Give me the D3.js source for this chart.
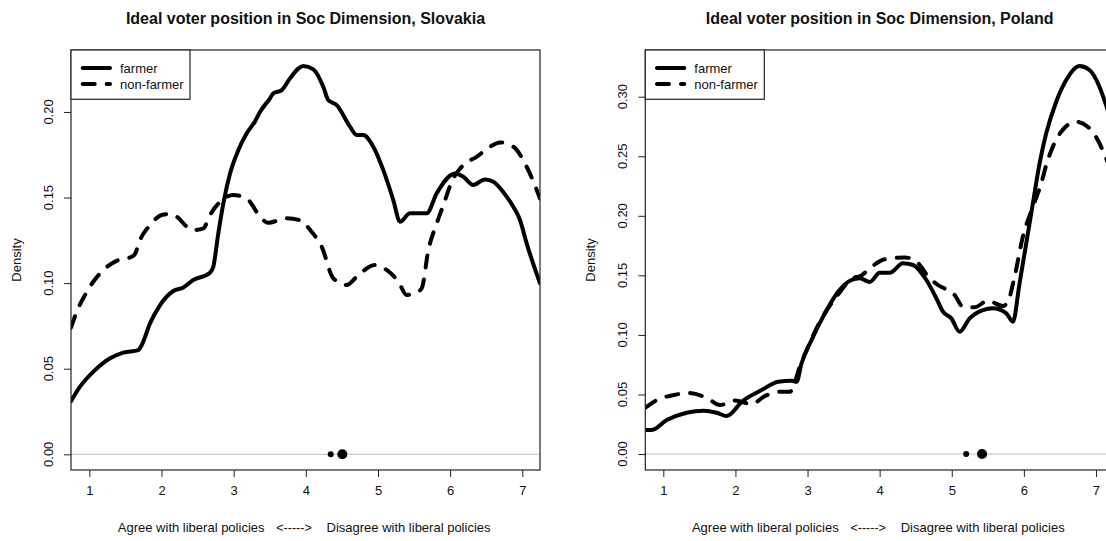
<!DOCTYPE html>
<html><head><meta charset="utf-8">
<script src="https://cdn.jsdelivr.net/npm/d3@7"></script>
<style>
body{margin:0;background:#fff}
text{font-family:"Liberation Sans",Arial,Helvetica,sans-serif;fill:#111}
</style>
</head><body>
<svg id="c" width="1106" height="541"></svg>
<script>
// ---------- data ----------
const xTicks = [1, 2, 3, 4, 5, 6, 7];
const skYTicks = [0, 0.05, 0.10, 0.15, 0.20];
const plYTicks = [0, 0.05, 0.10, 0.15, 0.20, 0.25, 0.30];
const legendLabels = ["farmer", "non-farmer"];
const titles = ["Ideal voter position in Soc Dimension, Slovakia", "Ideal voter position in Soc Dimension, Poland"];

const skFarmer = [[0.746,0.031],[0.871,0.0395],[1.057,0.0483],[1.287,0.0561],[1.471,0.0594],[1.679,0.0609],[1.726,0.0638],[1.841,0.0765],[1.98,0.0872],[2.164,0.0954],[2.302,0.0975],[2.44,0.1018],[2.672,0.1061],[2.718,0.1096],[2.787,0.129],[2.857,0.1466],[2.95,0.1641],[3.065,0.1777],[3.181,0.1875],[3.296,0.1945],[3.365,0.200],[3.504,0.208],[3.55,0.2109],[3.666,0.2128],[3.78,0.2196],[3.965,0.2268],[4.104,0.2249],[4.242,0.2147],[4.31,0.207],[4.428,0.204],[4.612,0.1914],[4.705,0.1865],[4.796,0.1865],[4.935,0.1797],[5.074,0.166],[5.212,0.1485],[5.305,0.1359],[5.444,0.1408],[5.675,0.1408],[5.814,0.1525],[6.067,0.1641],[6.182,0.1622],[6.32,0.1573],[6.483,0.1606],[6.598,0.1592],[6.783,0.1505],[6.875,0.1446],[6.968,0.1369],[7.06,0.1232],[7.245,0.0999]];
const skNonFarmer = [[0.746,0.074],[0.825,0.0833],[0.94,0.093],[1.055,0.1008],[1.218,0.1086],[1.402,0.1135],[1.588,0.1154],[1.633,0.117],[1.703,0.1252],[1.841,0.1339],[2.003,0.1398],[2.118,0.1404],[2.211,0.1388],[2.35,0.133],[2.441,0.131],[2.58,0.132],[2.672,0.1398],[2.811,0.1475],[2.995,0.1515],[3.203,0.1485],[3.365,0.1388],[3.48,0.1353],[3.735,0.1379],[3.92,0.1367],[4.08,0.130],[4.22,0.1213],[4.381,0.1028],[4.567,0.0989],[4.727,0.1047],[4.959,0.1106],[5.12,0.1077],[5.282,0.1008],[5.398,0.0931],[5.513,0.094],[5.606,0.097],[5.698,0.1193],[5.814,0.1349],[5.906,0.1456],[6.022,0.1592],[6.182,0.169],[6.368,0.1738],[6.552,0.1797],[6.691,0.1822],[6.875,0.1797],[7.06,0.168],[7.245,0.1495]];
const plFarmer = [[0.75,0.0202],[0.84,0.0202],[1.047,0.0285],[1.324,0.0347],[1.554,0.0364],[1.74,0.0347],[1.878,0.0319],[2.1,0.0445],[2.363,0.0537],[2.593,0.0607],[2.778,0.0615],[2.848,0.0607],[2.917,0.0762],[3.055,0.0957],[3.24,0.1181],[3.424,0.1363],[3.61,0.1461],[3.724,0.1475],[3.863,0.1445],[4.001,0.1522],[4.14,0.1522],[4.324,0.1601],[4.463,0.1587],[4.648,0.1461],[4.787,0.1307],[4.878,0.1195],[4.994,0.1139],[5.109,0.1027],[5.248,0.1139],[5.432,0.1209],[5.571,0.1223],[5.756,0.1181],[5.848,0.1111],[5.94,0.1433],[6.033,0.1769],[6.125,0.2105],[6.218,0.2441],[6.31,0.2693],[6.449,0.2958],[6.587,0.314],[6.771,0.3258],[6.91,0.3224],[7.048,0.3084],[7.131,0.2945],[7.25,0.27]];
const plNonFarmer = [[0.75,0.039],[0.93,0.0459],[1.139,0.0495],[1.346,0.0512],[1.6,0.0472],[1.785,0.0411],[1.993,0.045],[2.224,0.042],[2.409,0.0487],[2.616,0.0523],[2.755,0.0523],[2.893,0.0733],[3.008,0.0901],[3.147,0.1083],[3.424,0.134],[3.61,0.147],[3.75,0.150],[3.863,0.1559],[4.07,0.1635],[4.347,0.1651],[4.51,0.1615],[4.694,0.1475],[4.809,0.1419],[5.04,0.1335],[5.155,0.1237],[5.317,0.1232],[5.501,0.1287],[5.709,0.1243],[5.778,0.1279],[5.871,0.1489],[5.986,0.1825],[6.125,0.2076],[6.241,0.2273],[6.31,0.2426],[6.402,0.258],[6.518,0.2706],[6.726,0.279],[6.886,0.2748],[7.025,0.2636],[7.131,0.2496],[7.25,0.232]];
const skMeans = [4.345, 4.506];
const plMeans = [5.20, 5.42];
const meanRadius = [3, 5];

// ---------- layout ----------
const panels = [
  {title: titles[0], farmer: skFarmer, non: skNonFarmer, yTicks: skYTicks, means: skMeans,
   xDom: [0.746, 7.245], yDom: [-0.00917, 0.2362], left: 71, right: 540},
  {title: titles[1], farmer: plFarmer, non: plNonFarmer, yTicks: plYTicks, means: plMeans,
   xDom: [0.75, 7.25], yDom: [-0.0134, 0.3392], left: 645.3, right: 1114}
];
const plotTop = 50, plotBottom = 470;
const svg = d3.select("#c");

panels.forEach((p, i) => {
  const x = d3.scaleLinear().domain(p.xDom).range([p.left, p.right]);
  const y = d3.scaleLinear().domain(p.yDom).range([plotBottom, plotTop]);
  const g = svg.append("g");
  const cx = (p.left + p.right) / 2;

  g.append("clipPath").attr("id", "clip" + i).append("rect")
    .attr("x", p.left).attr("y", plotTop).attr("width", p.right - p.left).attr("height", plotBottom - plotTop);

  // zero line
  g.append("line").attr("x1", p.left).attr("x2", p.right).attr("y1", y(0)).attr("y2", y(0))
    .attr("stroke", "#bebebe").attr("stroke-width", 1);

  const line = d3.line().x(d => x(d[0])).y(d => y(d[1])).curve(d3.curveMonotoneX);
  const cg = g.append("g").attr("clip-path", `url(#clip${i})`);
  cg.append("path").datum(p.farmer).attr("d", line).attr("fill", "none")
    .attr("stroke", "#000").attr("stroke-width", 4).attr("stroke-linecap", "round").attr("stroke-linejoin", "round");
  cg.append("path").datum(p.non).attr("d", line).attr("fill", "none")
    .attr("stroke", "#000").attr("stroke-width", 4).attr("stroke-linecap", "round").attr("stroke-linejoin", "round")
    .attr("stroke-dasharray", "12,12");

  // mean dots
  cg.selectAll("circle.m").data(p.means).enter().append("circle")
    .attr("cx", d => x(d)).attr("cy", y(0)).attr("r", (d, j) => meanRadius[j]).attr("fill", "#000");

  // box
  g.append("rect").attr("x", p.left).attr("y", plotTop).attr("width", p.right - p.left).attr("height", plotBottom - plotTop)
    .attr("fill", "none").attr("stroke", "#222").attr("stroke-width", 1.2);

  // x axis
  const xa = g.append("g").attr("transform", `translate(0,${plotBottom})`)
    .call(d3.axisBottom(x).tickValues(xTicks).tickSize(7).tickPadding(9).tickFormat(d3.format("d")));
  xa.select(".domain").remove();
  xa.selectAll("line").attr("stroke", "#222");
  xa.selectAll("text").attr("font-size", 13).style("font-family", '"Liberation Sans",Arial,sans-serif').attr("fill", "#111");

  // y axis
  const ya = g.append("g").attr("transform", `translate(${p.left},0)`)
    .call(d3.axisLeft(y).tickValues(p.yTicks).tickSize(7).tickFormat(d3.format(".2f")));
  ya.select(".domain").remove();
  ya.selectAll("line").attr("stroke", "#222");
  ya.selectAll("text").remove();
  g.selectAll("text.yt").data(p.yTicks).enter().append("text")
    .attr("transform", d => `translate(${p.left - 18},${y(d)}) rotate(-90)`)
    .attr("text-anchor", "middle").attr("font-size", 13).text(d3.format(".2f"));

  // title
  g.append("text").attr("x", cx).attr("y", 24).attr("text-anchor", "middle")
    .attr("font-size", 16).attr("font-weight", "bold").attr("fill", "#000").text(p.title);

  // x label pieces
  g.append("text").attr("x", cx - 41).attr("y", 532).attr("text-anchor", "end").attr("font-size", 13).text("Agree with liberal policies");
  g.append("text").attr("x", cx - 11.5).attr("y", 532).attr("text-anchor", "middle").attr("font-size", 12.5).text("<----->");
  g.append("text").attr("x", cx + 21).attr("y", 532).attr("text-anchor", "start").attr("font-size", 13).text("Disagree with liberal policies");

  // y label
  g.append("text").attr("transform", `translate(${p.left - 50},260) rotate(-90)`)
    .attr("text-anchor", "middle").attr("font-size", 13).text("Density");

  // legend
  const lg = g.append("g");
  lg.append("rect").attr("x", p.left).attr("y", plotTop).attr("width", 119).attr("height", 49.3)
    .attr("fill", "#fff").attr("stroke", "#222").attr("stroke-width", 1.2);
  legendLabels.forEach((lab, j) => {
    const ly = 68 + j * 16;
    lg.append("line").attr("x1", p.left + 11.7).attr("x2", p.left + 39).attr("y1", ly).attr("y2", ly)
      .attr("stroke", "#000").attr("stroke-width", 4).attr("stroke-linecap", "round")
      .attr("stroke-dasharray", j === 0 ? null : "12,12");
    lg.append("text").attr("x", p.left + 49).attr("y", ly + 4.5).attr("font-size", 13).text(lab);
  });
});
</script>
</body></html>
